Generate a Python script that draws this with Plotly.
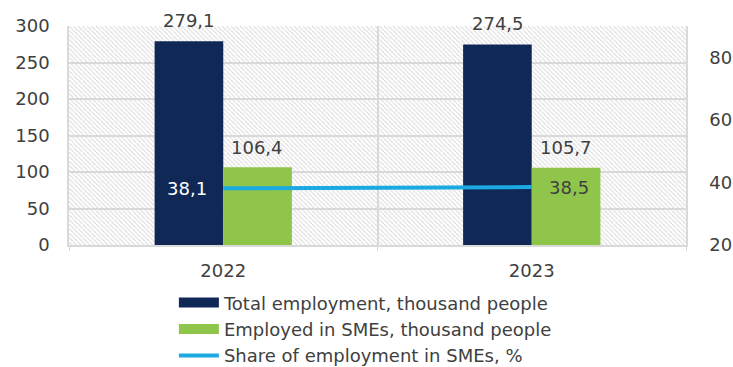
import base64
import plotly.graph_objects as go

# Data
years = ["2022", "2023"]
total_employment = [279.1, 274.5]      # thousand people
sme_employment = [106.4, 105.7]        # thousand people
sme_share = [38.1, 38.5]               # %

NAVY = "#0f2856"
GREEN = "#8fc54a"
BLUE = "#1ba9e1"
TEXT = "#404040"
GRID = "#d9d9d9"
FONT = "DejaVu Sans"
FS = 18


def fmt(v):
    return f"{v:.1f}".replace(".", ",")


# Hatched plot-area background as an inline SVG
hatch_svg = (
    '<svg xmlns="http://www.w3.org/2000/svg" width="617" height="219" '
    'viewBox="0 0 617 219" preserveAspectRatio="none">'
    '<defs><pattern id="h" patternUnits="userSpaceOnUse" width="4.5" height="4.5">'
    '<path d="M-1,-1 l2,2 M0,0 l4.5,4.5 M3.5,3.5 l2,2" stroke="#d8d8d8" '
    'stroke-width="1"/></pattern></defs>'
    '<rect width="617" height="219" fill="url(#h)"/></svg>'
)
hatch_uri = "data:image/svg+xml;base64," + base64.b64encode(hatch_svg.encode()).decode()

fig = go.Figure()

fig.add_trace(go.Bar(
    x=years, y=total_employment, name="Total employment, thousand people",
    marker=dict(color=NAVY, line=dict(width=0)), showlegend=False,
))
fig.add_trace(go.Bar(
    x=years, y=sme_employment, name="Employed in SMEs, thousand people",
    marker=dict(color=GREEN, line=dict(width=0)), showlegend=False,
))
fig.add_trace(go.Scatter(
    x=years, y=sme_share, yaxis="y2", mode="lines",
    name="Share of employment in SMEs, %",
    line=dict(color=BLUE, width=4), showlegend=False,
))

# Legend entries drawn as wide swatches
for label, color, w in [("Total employment, thousand people", NAVY, 10),
                        ("Employed in SMEs, thousand people", GREEN, 10),
                        ("Share of employment in SMEs, %", BLUE, 4)]:
    fig.add_trace(go.Scatter(x=[years[0]], y=[None], mode="lines", name=label,
                             line=dict(color=color, width=w)))

# Value labels (x given as category index)
annotations = []
for i, v in enumerate(total_employment):
    annotations.append(dict(x=i, y=v, xref="x", yref="y", text=fmt(v),
                            showarrow=False, xshift=-34, yshift=21,
                            font=dict(color=TEXT, size=FS, family=FONT)))
for i, v in enumerate(sme_employment):
    annotations.append(dict(x=i, y=v, xref="x", yref="y", text=fmt(v),
                            showarrow=False, xshift=34, yshift=20,
                            font=dict(color=TEXT, size=FS, family=FONT)))
annotations.append(dict(x=0, y=sme_share[0], xref="x", yref="y2",
                        text=fmt(sme_share[0]), showarrow=False, xshift=-36,
                        font=dict(color="white", size=FS, family=FONT)))
annotations.append(dict(x=1, y=sme_share[1], xref="x", yref="y2",
                        text=fmt(sme_share[1]), showarrow=False, xshift=37,
                        font=dict(color=TEXT, size=FS, family=FONT)))

fig.update_layout(
    width=733, height=367,
    margin=dict(l=69, r=47, t=26, b=122, autoexpand=False),
    paper_bgcolor="white", plot_bgcolor="white",
    font=dict(family=FONT, size=FS, color=TEXT),
    barmode="group", bargap=0.555, bargroupgap=0,
    images=[dict(source=hatch_uri, xref="paper", yref="paper", x=0, y=1,
                 sizex=1, sizey=1, xanchor="left", yanchor="top",
                 sizing="stretch", layer="below")],
    xaxis=dict(type="category", categoryorder="array", categoryarray=years,
               range=[-0.5, 1.5], tickson="boundaries", showgrid=True,
               gridcolor=GRID, gridwidth=1.5, showline=True, tickangle=0,
               linecolor=GRID, linewidth=1.5, ticks="outside", ticklen=4,
               tickcolor=GRID, ticklabelstandoff=9, automargin=False),
    yaxis=dict(range=[0, 300], dtick=50, showgrid=True, gridcolor=GRID,
               gridwidth=1.5, showline=True, linecolor=GRID, linewidth=1.5,
               zeroline=False, ticks="", ticklabelstandoff=14, automargin=False),
    yaxis2=dict(range=[20, 90], tickvals=[20, 40, 60, 80], overlaying="y",
                side="right", showgrid=False, showline=True, linecolor=GRID,
                linewidth=1.5, zeroline=False, ticks="", ticklabelstandoff=18,
                automargin=False),
    legend=dict(orientation="v", x=0.17, xanchor="left", y=-0.18,
                yanchor="top", font=dict(size=FS, color=TEXT, family=FONT),
                bgcolor="rgba(0,0,0,0)", itemwidth=40),
    annotations=annotations,
    showlegend=True,
)

fig.write_html("out.html")
